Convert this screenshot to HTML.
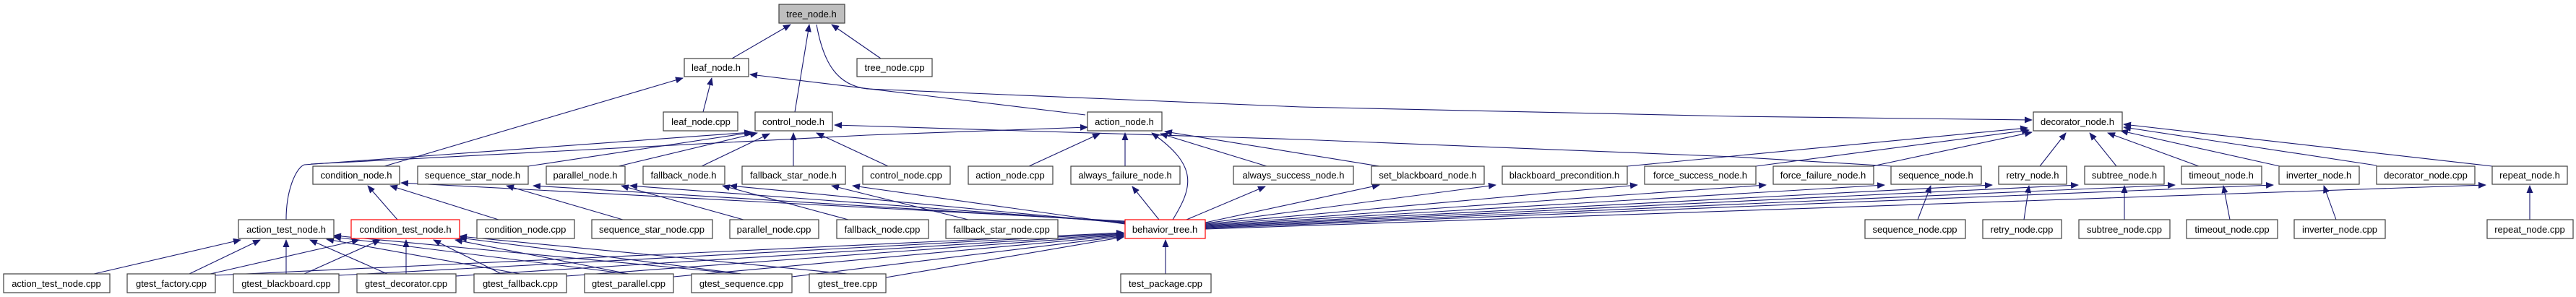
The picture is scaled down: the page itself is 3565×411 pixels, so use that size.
<!DOCTYPE html>
<html><head><meta charset="utf-8"><style>
html,body{margin:0;padding:0;background:#fff;}
svg{display:block;}
text{font-family:"Liberation Sans",sans-serif;font-size:13px;fill:#000;text-anchor:middle;}
rect{fill:#fff;stroke:#404040;stroke-width:1.2;}
rect.g{fill:#bfbfbf;stroke:#404040;}
rect.r{stroke:#ff0000;}
.e line,.e path,.e polyline{stroke:#191970;stroke-width:1.1;fill:none;marker-end:url(#a);}
</style></head><body>
<svg width="3565" height="411" viewBox="0 0 3565 411" xmlns="http://www.w3.org/2000/svg">
<defs><marker id="a" markerUnits="userSpaceOnUse" markerWidth="11" markerHeight="9" refX="10" refY="4.5" orient="auto"><path d="M0,0 L11,4.5 L0,9 z" fill="#191970"/></marker></defs>
<g class="e">
<line x1="1013" y1="81" x2="1094" y2="34"/>
<line x1="1100" y1="155" x2="1120" y2="34"/>
<line x1="1219" y1="81" x2="1151" y2="34"/>
<line x1="973" y1="155" x2="985" y2="108"/>
<line x1="532" y1="230" x2="945" y2="108"/>
<line x1="1502" y1="159" x2="1038" y2="103"/>
<path d="M396,304 C396,262 410,232 421,228 L1040,183"/>
<path d="M430,227 L1200,187 L1505,176"/>
<line x1="731" y1="230" x2="1042" y2="183"/>
<line x1="856" y1="230" x2="1048" y2="184"/>
<line x1="971" y1="230" x2="1065" y2="185"/>
<line x1="1098" y1="230" x2="1098" y2="184"/>
<line x1="1229" y1="230" x2="1130" y2="184"/>
<path d="M2618,230 L2400,217 L1800,193 L1155,173"/>
<line x1="1424" y1="230" x2="1522" y2="185"/>
<line x1="1557" y1="230" x2="1557" y2="184"/>
<path d="M1623,304 C1650,260 1660,230 1594,184"/>
<line x1="1753" y1="230" x2="1606" y2="185"/>
<line x1="1909" y1="230" x2="1612" y2="182"/>
<path d="M1130,34 C1140,90 1160,118 1200,123 L1800,148 L2400,161 L2812,166"/>
<line x1="2252" y1="230" x2="2806" y2="177"/>
<line x1="2430" y1="230" x2="2808" y2="180"/>
<line x1="2591" y1="230" x2="2812" y2="183"/>
<line x1="2823" y1="230" x2="2859" y2="184"/>
<line x1="2929" y1="230" x2="2892" y2="184"/>
<line x1="3043" y1="230" x2="2917" y2="184"/>
<line x1="3155" y1="230" x2="2935" y2="181"/>
<line x1="3289" y1="229" x2="2939" y2="176"/>
<line x1="3449" y1="230" x2="2939" y2="172"/>
<line x1="2654" y1="304" x2="2672" y2="257"/>
<line x1="2801" y1="304" x2="2808" y2="257"/>
<line x1="2940" y1="304" x2="2940" y2="257"/>
<line x1="3086" y1="304" x2="3077" y2="257"/>
<line x1="3233" y1="304" x2="3216" y2="257"/>
<line x1="3501" y1="304" x2="3501" y2="257"/>
<line x1="690" y1="304" x2="540" y2="257"/>
<line x1="550" y1="304" x2="509" y2="257"/>
<line x1="862" y1="304" x2="701" y2="257"/>
<line x1="1029" y1="304" x2="860" y2="257"/>
<line x1="1174" y1="304" x2="1000" y2="257"/>
<line x1="1340" y1="304" x2="1151" y2="257"/>
<line x1="1557" y1="306" x2="555" y2="253"/>
<line x1="1557" y1="307" x2="738" y2="257"/>
<line x1="1557" y1="308" x2="872" y2="257"/>
<line x1="1557" y1="309" x2="1010" y2="257"/>
<line x1="1557" y1="310" x2="1180" y2="257"/>
<line x1="1604" y1="304" x2="1567" y2="258"/>
<line x1="1642" y1="304" x2="1751" y2="258"/>
<line x1="1668" y1="308" x2="1909" y2="256"/>
<line x1="1668" y1="309" x2="2070" y2="256"/>
<line x1="1668" y1="310" x2="2266" y2="256"/>
<line x1="1668" y1="311" x2="2444" y2="256"/>
<line x1="1668" y1="312" x2="2608" y2="256"/>
<line x1="1668" y1="313" x2="2757" y2="256"/>
<line x1="1668" y1="314" x2="2876" y2="256"/>
<line x1="1668" y1="315" x2="3010" y2="256"/>
<line x1="1668" y1="316" x2="3146" y2="256"/>
<line x1="1668" y1="317" x2="3440" y2="256"/>
<line x1="1613" y1="379" x2="1613" y2="332"/>
<line x1="298" y1="381" x2="1555" y2="322"/>
<line x1="469" y1="381" x2="1555" y2="323"/>
<line x1="631" y1="382" x2="1555" y2="324"/>
<line x1="784" y1="382" x2="1555" y2="325"/>
<line x1="932" y1="383" x2="1555" y2="326"/>
<line x1="1096" y1="383" x2="1555" y2="327"/>
<line x1="1226" y1="384" x2="1555" y2="328"/>
<line x1="130" y1="379" x2="333" y2="332"/>
<line x1="262" y1="379" x2="360" y2="332"/>
<line x1="396" y1="379" x2="396" y2="332"/>
<line x1="536" y1="379" x2="429" y2="332"/>
<line x1="720" y1="379" x2="452" y2="331"/>
<line x1="870" y1="379" x2="462" y2="328"/>
<line x1="1026" y1="379" x2="462" y2="326"/>
<line x1="291" y1="379" x2="497" y2="332"/>
<line x1="421" y1="379" x2="526" y2="332"/>
<line x1="562" y1="379" x2="562" y2="332"/>
<line x1="694" y1="379" x2="600" y2="332"/>
<line x1="870" y1="379" x2="630" y2="332"/>
<line x1="1026" y1="379" x2="636" y2="329"/>
<line x1="1173" y1="379" x2="636" y2="327"/>
</g>
<g>
<rect class="g" x="1078" y="6" width="91" height="26"/><text x="1123" y="24">tree_node.h</text>
<rect x="947" y="81" width="89" height="25"/><text x="991" y="98">leaf_node.h</text>
<rect x="1186" y="81" width="104" height="25"/><text x="1238" y="98">tree_node.cpp</text>
<rect x="918" y="155" width="103" height="26"/><text x="970" y="173">leaf_node.cpp</text>
<rect x="1045" y="155" width="107" height="26"/><text x="1098" y="173">control_node.h</text>
<rect x="1505" y="155" width="103" height="26"/><text x="1556" y="173">action_node.h</text>
<rect x="2814" y="155" width="123" height="26"/><text x="2875" y="173">decorator_node.h</text>
<rect x="433" y="230" width="120" height="25"/><text x="493" y="247">condition_node.h</text>
<rect x="578" y="230" width="153" height="25"/><text x="654" y="247">sequence_star_node.h</text>
<rect x="756" y="230" width="109" height="25"/><text x="810" y="247">parallel_node.h</text>
<rect x="890" y="230" width="113" height="25"/><text x="946" y="247">fallback_node.h</text>
<rect x="1027" y="230" width="143" height="25"/><text x="1098" y="247">fallback_star_node.h</text>
<rect x="1194" y="230" width="121" height="25"/><text x="1254" y="247">control_node.cpp</text>
<rect x="1340" y="230" width="117" height="25"/><text x="1398" y="247">action_node.cpp</text>
<rect x="1482" y="230" width="151" height="25"/><text x="1557" y="247">always_failure_node.h</text>
<rect x="1707" y="230" width="166" height="25"/><text x="1790" y="247">always_success_node.h</text>
<rect x="1898" y="230" width="156" height="25"/><text x="1976" y="247">set_blackboard_node.h</text>
<rect x="2079" y="230" width="173" height="25"/><text x="2165" y="247">blackboard_precondition.h</text>
<rect x="2276" y="230" width="154" height="25"/><text x="2353" y="247">force_success_node.h</text>
<rect x="2454" y="230" width="139" height="25"/><text x="2523" y="247">force_failure_node.h</text>
<rect x="2617" y="230" width="125" height="25"/><text x="2679" y="247">sequence_node.h</text>
<rect x="2766" y="230" width="94" height="25"/><text x="2813" y="247">retry_node.h</text>
<rect x="2885" y="230" width="110" height="25"/><text x="2940" y="247">subtree_node.h</text>
<rect x="3019" y="230" width="111" height="25"/><text x="3074" y="247">timeout_node.h</text>
<rect x="3154" y="230" width="111" height="25"/><text x="3209" y="247">inverter_node.h</text>
<rect x="3289" y="230" width="136" height="25"/><text x="3357" y="247">decorator_node.cpp</text>
<rect x="3449" y="230" width="104" height="25"/><text x="3501" y="247">repeat_node.h</text>
<rect x="330" y="304" width="132" height="26"/><text x="396" y="322">action_test_node.h</text>
<rect class="r" x="486" y="304" width="150" height="26"/><text x="561" y="322">condition_test_node.h</text>
<rect x="660" y="304" width="135" height="26"/><text x="727" y="322">condition_node.cpp</text>
<rect x="819" y="304" width="167" height="26"/><text x="902" y="322">sequence_star_node.cpp</text>
<rect x="1010" y="304" width="123" height="26"/><text x="1071" y="322">parallel_node.cpp</text>
<rect x="1158" y="304" width="127" height="26"/><text x="1221" y="322">fallback_node.cpp</text>
<rect x="1309" y="304" width="155" height="26"/><text x="1386" y="322">fallback_star_node.cpp</text>
<rect class="r" x="1557" y="304" width="111" height="26"/><text x="1612" y="322">behavior_tree.h</text>
<rect x="2581" y="304" width="139" height="26"/><text x="2650" y="322">sequence_node.cpp</text>
<rect x="2744" y="304" width="109" height="26"/><text x="2798" y="322">retry_node.cpp</text>
<rect x="2877" y="304" width="126" height="26"/><text x="2940" y="322">subtree_node.cpp</text>
<rect x="3026" y="304" width="126" height="26"/><text x="3089" y="322">timeout_node.cpp</text>
<rect x="3175" y="304" width="126" height="26"/><text x="3238" y="322">inverter_node.cpp</text>
<rect x="3442" y="304" width="119" height="26"/><text x="3501" y="322">repeat_node.cpp</text>
<rect x="5" y="379" width="147" height="26"/><text x="78" y="397">action_test_node.cpp</text>
<rect x="176" y="379" width="122" height="26"/><text x="237" y="397">gtest_factory.cpp</text>
<rect x="323" y="379" width="146" height="26"/><text x="396" y="397">gtest_blackboard.cpp</text>
<rect x="494" y="379" width="137" height="26"/><text x="562" y="397">gtest_decorator.cpp</text>
<rect x="656" y="379" width="128" height="26"/><text x="720" y="397">gtest_fallback.cpp</text>
<rect x="809" y="379" width="123" height="26"/><text x="870" y="397">gtest_parallel.cpp</text>
<rect x="957" y="379" width="139" height="26"/><text x="1026" y="397">gtest_sequence.cpp</text>
<rect x="1120" y="379" width="106" height="26"/><text x="1173" y="397">gtest_tree.cpp</text>
<rect x="1551" y="379" width="125" height="26"/><text x="1613" y="397">test_package.cpp</text>
</g>
</svg>
</body></html>
